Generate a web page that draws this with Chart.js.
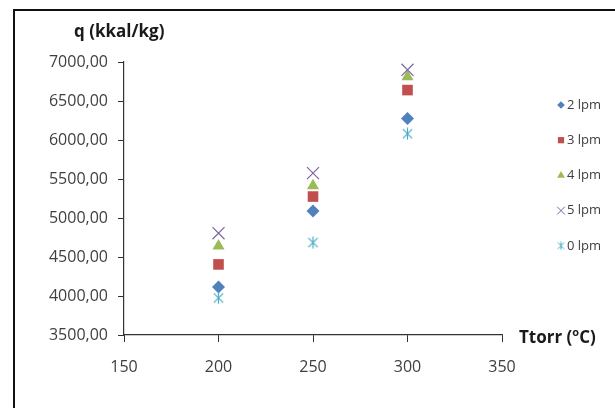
<!DOCTYPE html>
<html>
<head>
<meta charset="utf-8">
<script src="https://cdn.jsdelivr.net/npm/chart.js@4.4.1/dist/chart.umd.min.js"></script>
<style>
  html, body { margin: 0; padding: 0; background: #fff; }
  #wrap { width: 615px; height: 408px; }
</style>
</head>
<body>
<div id="wrap"><canvas id="chart" width="615" height="408"></canvas></div>
<script>
// Ttorr (oC) on x, q (kkal/kg) on y
const temps = [200, 250, 300];
const seriesNames = ['2 lpm', '3 lpm', '4 lpm', '5 lpm', '0 lpm'];
const q2lpm = [4115, 5090, 6275];
const q3lpm = [4405, 5275, 6640];
const q4lpm = [4640, 5415, 6810];
const q5lpm = [4805, 5575, 6900];
const q0lpm = [3975, 4685, 6080];
const xTicks = [150, 200, 250, 300, 350];
const yTicks = [3500, 4000, 4500, 5000, 5500, 6000, 6500, 7000];

// excel style asterisk marker (vertical bar + X, no horizontal bar)
function makeStar(size, color, lw) {
  const c = document.createElement('canvas');
  c.width = size; c.height = size;
  const g = c.getContext('2d');
  g.strokeStyle = color;
  g.lineWidth = lw;
  const m = size / 2, d = size * 0.36;
  g.beginPath();
  g.moveTo(m, 0.5); g.lineTo(m, size - 0.5);
  g.moveTo(m - d, m - d); g.lineTo(m + d, m + d);
  g.moveTo(m + d, m - d); g.lineTo(m - d, m + d);
  g.stroke();
  return c;
}

const colors = ['#4F81BD', '#C0504D', '#9BBB59', '#8064A2', '#4BACC6'];
const allSeries = [q2lpm, q3lpm, q4lpm, q5lpm, q0lpm];
const styles = ['rectRot', 'rect', 'triangle', 'crossRot', makeStar(13, colors[4], 1.2)];
const radii = [6.5, 7.5, 7, 8.5, 7];
const legendStyles = ['rectRot', 'rect', 'triangle', 'crossRot', makeStar(9, colors[4], 1)];
const legendRadii = [3.8, 4.4, 4.5, 5.5, 5];

const datasets = allSeries.map((vals, i) => ({
  label: seriesNames[i],
  data: temps.map((t, j) => ({ x: t, y: vals[j] })),
  pointStyle: styles[i],
  pointRadius: radii[i],
  pointHoverRadius: radii[i],
  backgroundColor: colors[i],
  borderColor: colors[i],
  pointBorderWidth: i === 3 ? 1.2 : 0,
  order: allSeries.length - i
}));

const frameAndText = {
  id: 'frameAndText',
  beforeDraw(chart) {
    const ctx = chart.ctx;
    ctx.save();
    ctx.fillStyle = '#fff';
    ctx.fillRect(0, 0, chart.width, chart.height);
    ctx.strokeStyle = '#111';
    ctx.lineWidth = 2;
    ctx.beginPath();
    ctx.moveTo(14, chart.height);
    ctx.lineTo(14, 10);
    ctx.lineTo(chart.width, 10);
    ctx.stroke();
    ctx.restore();
  },
  afterDraw(chart) {
    const ctx = chart.ctx;
    const area = chart.chartArea;
    ctx.save();
    ctx.fillStyle = '#1a1a1a';
    ctx.textBaseline = 'middle';
    ctx.textAlign = 'left';
    ctx.font = "bold 17px 'Open Sans', sans-serif";
    ctx.fillText('q (kkal/kg)', 74, 32);

    // x axis title with superscript o
    let x = area.right + 17;
    const y = area.bottom + 3;
    ctx.fillText('Ttorr (', x, y);
    x += ctx.measureText('Ttorr (').width;
    ctx.font = "bold 11px 'Open Sans', sans-serif";
    ctx.fillText('o', x, y - 5);
    x += ctx.measureText('o').width;
    ctx.font = "bold 17px 'Open Sans', sans-serif";
    ctx.fillText('C)', x, y);

    // legend
    ctx.font = "13px 'Open Sans', sans-serif";
    chart.data.datasets.forEach((ds, i) => {
      const ly = 105 + i * 35.2;
      ctx.fillStyle = colors[i];
      ctx.strokeStyle = colors[i];
      Chart.helpers.drawPoint(ctx, {
        pointStyle: legendStyles[i],
        radius: legendRadii[i],
        borderWidth: i === 3 ? 1 : 0
      }, 561, ly);
      ctx.fillStyle = '#404040';
      ctx.fillText(ds.label, 567, ly);
    });
    ctx.restore();
  }
};

Chart.defaults.font.family = "'Open Sans', sans-serif";
Chart.defaults.color = '#404040';

new Chart(document.getElementById('chart'), {
  type: 'scatter',
  data: { datasets: datasets },
  options: {
    responsive: false,
    animation: false,
    events: [],
    layout: { padding: { top: 62, right: 113, left: 0, bottom: 0 } },
    plugins: {
      legend: { display: false },
      tooltip: { enabled: false }
    },
    scales: {
      x: {
        type: 'linear',
        min: xTicks[0],
        max: xTicks[xTicks.length - 1],
        afterBuildTicks: (s) => { s.ticks = xTicks.map(v => ({ value: v })); },
        afterFit: (s) => { s.height = 73; },
        grid: { drawOnChartArea: false, drawTicks: true, tickLength: 7, color: '#333' },
        border: { color: '#333', width: 1.2 },
        ticks: { font: { size: 16 }, padding: 16, color: '#404040' }
      },
      y: {
        type: 'linear',
        min: yTicks[0],
        max: yTicks[yTicks.length - 1],
        afterBuildTicks: (s) => { s.ticks = yTicks.map(v => ({ value: v })); },
        afterFit: (s) => { s.width = 124; },
        grid: { drawOnChartArea: false, drawTicks: true, tickLength: 6, color: '#333' },
        border: { color: '#333', width: 1.2 },
        ticks: {
          font: { size: 16 },
          padding: 10,
          color: '#404040',
          callback: (v) => v.toFixed(2).replace('.', ',')
        }
      }
    }
  },
  plugins: [frameAndText]
});
</script>
</body>
</html>
